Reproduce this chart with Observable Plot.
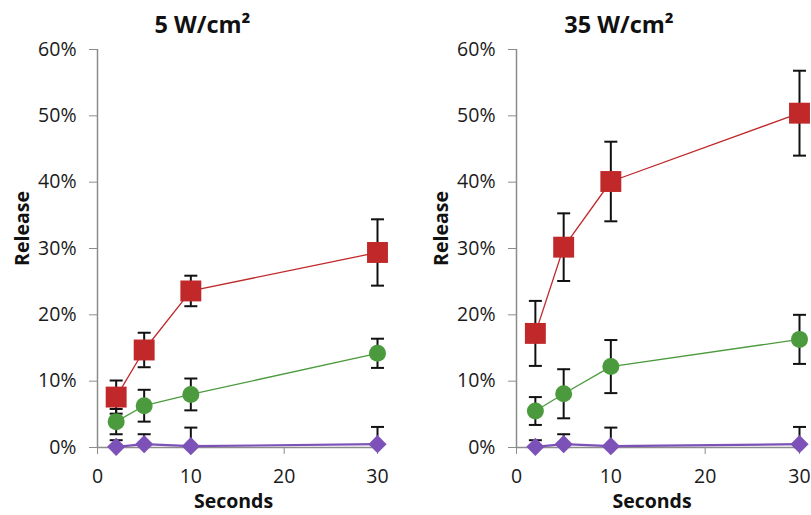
<!DOCTYPE html>
<html><head><meta charset="utf-8">
<script src="https://cdn.jsdelivr.net/npm/d3@7"></script>
<script src="https://cdn.jsdelivr.net/npm/@observablehq/plot@0.6"></script>
<style>
body{margin:0;background:#fff;}
#wrap{position:relative;width:811px;height:515px;overflow:hidden;background:#fff;}
#wrap svg{position:absolute;top:0;}
</style></head><body><div id="wrap"></div>
<script>
// ---- data (percent) ----
const seconds = [2, 5, 10, 30];
const xTicks = [0, 10, 20, 30];
const yTicks = [0, 0.1, 0.2, 0.3, 0.4, 0.5, 0.6];
const panelTitles = ["5 W/cm²", "35 W/cm²"];
const yLabel = "Release";
const xLabel = "Seconds";

const red5 = [7.6, 14.7, 23.6, 29.4];
const redErr5 = [2.5, 2.6, 2.3, 5.0];
const green5 = [3.9, 6.3, 8.0, 14.2];
const greenErr5 = [1.9, 2.4, 2.4, 2.2];
const purple5 = [0.1, 0.5, 0.2, 0.5];
const purpleErr5 = [1.0, 1.5, 2.8, 2.6];

const red35 = [17.2, 30.2, 40.1, 50.4];
const redErr35 = [4.9, 5.1, 6.0, 6.4];
const green35 = [5.5, 8.1, 12.2, 16.3];
const greenErr35 = [2.1, 3.7, 4.0, 3.7];
const purple35 = [0.1, 0.5, 0.2, 0.5];
const purpleErr35 = [1.0, 1.5, 2.8, 2.6];

const colors = {red: "#c0282a", green: "#4b9a3d", purple: "#7d52b8"};

function rows(series, vals, errs) {
  return seconds.map((s, i) => ({
    series, s, v: vals[i] / 100,
    lo: Math.max(0, (vals[i] - errs[i]) / 100),
    hi: (vals[i] + errs[i]) / 100,
    hasLo: vals[i] - errs[i] > 0
  }));
}

const capSymbol = {draw(ctx) { ctx.moveTo(-6.5, 0); ctx.lineTo(6.5, 0); }};

function panel(cfg) {
  const data = [
    ...rows("purple", cfg.purple, cfg.purpleErr),
    ...rows("green", cfg.green, cfg.greenErr),
    ...rows("red", cfg.red, cfg.redErr)
  ];
  const caps = [
    ...data.map(d => ({s: d.s, y: d.hi})),
    ...data.filter(d => d.hasLo).map(d => ({s: d.s, y: d.lo}))
  ];
  const bySeries = k => data.filter(d => d.series === k);
  const symbols = {red: "square", green: "circle", purple: "diamond2"};
  const radii = {red: 11.8, green: 8.5, purple: 8.2};
  const lineW = {red: 1.3, green: 1.3, purple: 2.2};
  const marks = [
    Plot.ruleX([0], {y1: 0, y2: 0.6, stroke: "#8c8c8c", strokeWidth: 1.5}),
    Plot.ruleY([0], {x1: 0, x2: 30, stroke: "#8c8c8c", strokeWidth: 1.5}),
    Plot.axisY({ticks: yTicks, tickFormat: d3.format(".0%"), tickSize: 8, tickPadding: 13,
      stroke: "#8c8c8c", fill: "#1a1a1a", fontSize: 19.5, label: null}),
    Plot.axisX({ticks: xTicks, tickSize: 7, tickPadding: 15,
      stroke: "#8c8c8c", fill: "#1a1a1a", fontSize: 19.5, label: null}),
    Plot.text([yLabel], {frameAnchor: "left", textAnchor: "middle", rotate: -90, dx: -75, dy: -20,
      fontWeight: 700, fontSize: 19.5, fill: "#111"}),
    Plot.text([xLabel], {frameAnchor: "bottom", textAnchor: "middle", dx: cfg.xlabDx, dy: 60,
      fontWeight: 700, fontSize: 19.5, fill: "#111"}),
    Plot.text([cfg.title], {frameAnchor: "top", textAnchor: "middle", dx: cfg.titleDx, dy: -33,
      fontWeight: 700, fontSize: 23.5, fill: "#111"})
  ];
  for (const k of ["purple", "green", "red"]) {
    marks.push(Plot.line(bySeries(k), {x: "s", y: "v", stroke: colors[k], strokeWidth: lineW[k]}));
  }
  marks.push(Plot.ruleX(data, {x: "s", y1: "lo", y2: "hi", stroke: "#111", strokeWidth: 2}));
  marks.push(Plot.dot(caps, {x: "s", y: "y", symbol: capSymbol, stroke: "#111", strokeWidth: 2, fill: "none"}));
  for (const k of ["purple", "green", "red"]) {
    marks.push(Plot.dot(bySeries(k), {x: "s", y: "v", symbol: symbols[k], r: radii[k], fill: colors[k], stroke: "none"}));
  }
  const svg = Plot.plot({
    width: cfg.width, height: 515,
    marginLeft: cfg.ml, marginRight: cfg.mr, marginTop: 49, marginBottom: 68,
    x: {domain: [0, 30]},
    y: {domain: [0, 0.6]},
    style: {fontFamily: "'Open Sans', sans-serif", background: "transparent", overflow: "visible"},
    marks
  });
  svg.style.left = cfg.left + "px";
  return svg;
}

const wrap = document.getElementById("wrap");
wrap.append(panel({title: panelTitles[0], left: 0, width: 405, ml: 97, mr: 28, titleDx: -35, xlabDx: -4,
  red: red5, redErr: redErr5, green: green5, greenErr: greenErr5, purple: purple5, purpleErr: purpleErr5}));
wrap.append(panel({title: panelTitles[1], left: 405, width: 406, ml: 111, mr: 12, titleDx: -39, xlabDx: -6,
  red: red35, redErr: redErr35, green: green35, greenErr: greenErr35, purple: purple35, purpleErr: purpleErr35}));
</script>
</body></html>
